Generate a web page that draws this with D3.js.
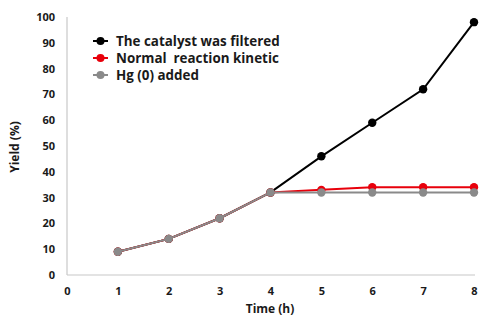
<!DOCTYPE html>
<html><head><meta charset="utf-8">
<script src="https://cdn.jsdelivr.net/npm/d3@7"></script>
<style>body{margin:0;background:#fff}svg{display:block}text{font-family:"Open Sans","Liberation Sans",sans-serif;font-weight:bold;fill:#1a1a1a}</style>
</head><body><svg id="c" width="479" height="318"></svg>
<script>
const times = [1,2,3,4,5,6,7,8];
const filtered = [9,14,22,32,46,59,72,98];
const normal = [9,14,22,32,33,34,34,34];
const hg = [9,14,22,32,32,32,32,32];
const seriesNames = ["The catalyst was filtered","Normal  reaction kinetic","Hg (0) added"];
const seriesColors = ["#000000","#e8000b","#8a8a8a"];
const xTicks = [0,1,2,3,4,5,6,7,8];
const yTicks = [0,10,20,30,40,50,60,70,80,90,100];

const svg = d3.select("#c");
const x = d3.scaleLinear().domain([0,8]).range([67,474]);
const y = d3.scaleLinear().domain([0,100]).range([275,17]);

svg.append("line").attr("x1",x(0)).attr("x2",x(8)+1).attr("y1",y(0)).attr("y2",y(0)).attr("stroke","#c8c8c8").attr("stroke-width",1.2);
svg.append("line").attr("x1",x(0)).attr("x2",x(0)).attr("y1",y(0)).attr("y2",y(100)).attr("stroke","#c8c8c8").attr("stroke-width",1.2);

const xAxis = svg.append("g").attr("transform",`translate(0,${y(0)})`)
  .call(d3.axisBottom(x).tickValues(xTicks).tickFormat(d3.format("d")).tickSize(0).tickPadding(12));
xAxis.select(".domain").remove();
xAxis.selectAll("text").attr("font-size",11).attr("font-family",null).style("font-family",'"Open Sans","Liberation Sans",sans-serif');

const yAxis = svg.append("g").attr("transform",`translate(${x(0)},0)`)
  .call(d3.axisLeft(y).tickValues(yTicks).tickFormat(d3.format("d")).tickSize(0).tickPadding(12));
yAxis.select(".domain").remove();
yAxis.selectAll("text").attr("font-size",11).attr("font-family",null).style("font-family",'"Open Sans","Liberation Sans",sans-serif');

svg.append("text").attr("x",270).attr("y",313).attr("text-anchor","middle").attr("font-size",12).text("Time (h)");
svg.append("text").attr("transform","translate(19,147) rotate(-90)").attr("text-anchor","middle").attr("font-size",12).text("Yield (%)");

const all = [filtered, normal, hg];
const line = d3.line().x((d,i)=>x(times[i])).y(d=>y(d));
all.forEach((vals,k)=>{
  const g = svg.append("g");
  g.append("path").datum(vals).attr("d",line).attr("fill","none").attr("stroke",seriesColors[k]).attr("stroke-width",2);
  g.selectAll("circle").data(vals).join("circle").attr("cx",(d,i)=>x(times[i])).attr("cy",d=>y(d)).attr("r",4.2).attr("fill",seriesColors[k]);
});

const lg = svg.append("g");
seriesNames.forEach((n,k)=>{
  const yy = 41 + k*17;
  lg.append("line").attr("x1",93).attr("x2",108).attr("y1",yy).attr("y2",yy).attr("stroke",seriesColors[k]).attr("stroke-width",2);
  lg.append("circle").attr("cx",100.5).attr("cy",yy).attr("r",4).attr("fill",seriesColors[k]);
  lg.append("text").attr("x",116).attr("y",yy+4.5).attr("font-size",13.4).style("white-space","pre").text(n);
});
</script></body></html>
